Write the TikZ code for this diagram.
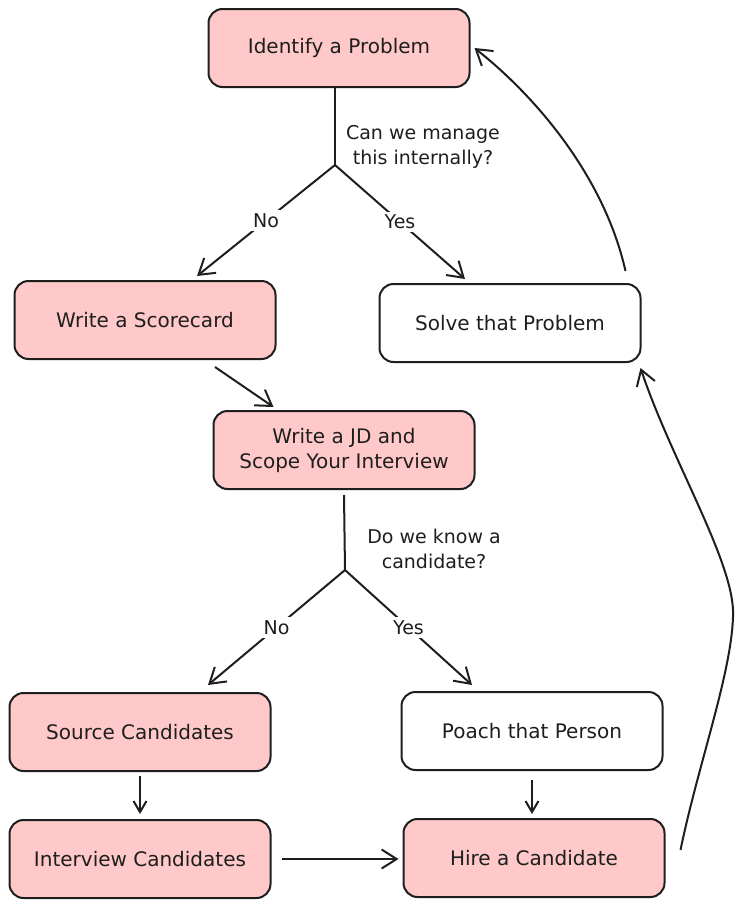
\documentclass[tikz,border=0pt]{standalone}
\usepackage{fontspec}
\setmainfont{DejaVu Sans}
\usetikzlibrary{arrows.meta,positioning,calc}
\definecolor{ink}{HTML}{1E1E1E}
\definecolor{rose}{HTML}{FFC9C9}

\begin{document}
\begin{tikzpicture}[
    x=1pt, y=-1pt,
    box/.style={draw=ink, line width=2pt, rectangle, rounded corners=14pt, minimum width=261pt, minimum height=78pt, align=center, text=ink, font=\fontsize{20}{25}\selectfont},
    task/.style={box, fill=rose},
    plain/.style={box, fill=white},
    arrow/.style={-{Straight Barb[length=15pt,width=19pt]}, line width=2pt, draw=ink},
    shortarrow/.style={arrow, -{Straight Barb[length=11pt,width=13pt]}},
    link/.style={line width=2pt, draw=ink},
    answer/.style={fill=white, inner sep=3pt, text=ink, font=\fontsize{19}{25}\selectfont},
    question/.style={align=center, text=ink, font=\fontsize{19}{25}\selectfont}
]
\useasboundingbox (0,0) rectangle (742,910);

% Steps
\node[task] (identify) at (339,48) {Identify a Problem};
\node[task] (scorecard) at (145,320) {Write a Scorecard};
\node[plain] (solve) at (510,323) {Solve that Problem};
\node[task] (jd) at (344,450) {Write a JD and\\Scope Your Interview};
\node[task] (source) at (140,732) {Source Candidates};
\node[plain] (poach) at (532,731) {Poach that Person};
\node[task] (interview) at (140,859) {Interview Candidates};
\node[task] (hire) at (534,858) {Hire a Candidate};

% First decision
\coordinate (fork1) at (335,165);
\node[question] (ask1) at (423,147) {Can we manage\\this internally?};
\draw[link] (identify.south -| fork1) -- (fork1);
\draw[arrow] (fork1) -- node[answer] {No} ($(scorecard.north)+(52,-4)$);
\draw[arrow] (fork1) -- node[answer] {Yes} ($(solve.north)+(-45,-4)$);

\draw[arrow] ($(scorecard.south)+(70,7)$) -- ($(jd.north west)+(61,-3)$);

% Second decision
\coordinate (fork2) at (345,570);
\node[question] (ask2) at (434,549) {Do we know a\\candidate?};
\draw[link] ($(jd.south)+(0,5)$) -- (fork2);
\draw[arrow] (fork2) -- node[answer] {No} ($(source.north)+(68,-7)$);
\draw[arrow] (fork2) -- node[answer] {Yes} ($(poach.north)+(-60,-6)$);

% Hiring
\draw[shortarrow, shorten <=4pt, shorten >=5pt] (source.south) -- (interview.north);
\draw[shortarrow, shorten <=9pt, shorten >=4pt] (poach.south) -- (poach.south |- hire.north);
\draw[arrow, shorten <=10pt, shorten >=4pt] (interview.east) -- (interview.east -| hire.west);

% Loop back
\coordinate (swing) at (733,617);
\draw[arrow] ($(hire.east)+(15,-8)$) .. controls (698,765) and (731,675) .. (swing)
    .. controls (736,565) and (672,462) .. ($(solve.south east)+(-1,5)$);
\draw[arrow] ($(solve.north east)+(-16,-12)$) .. controls (605,180) and (540,100) .. ($(identify.east)+(4,0)$);

\end{tikzpicture}
\end{document}
